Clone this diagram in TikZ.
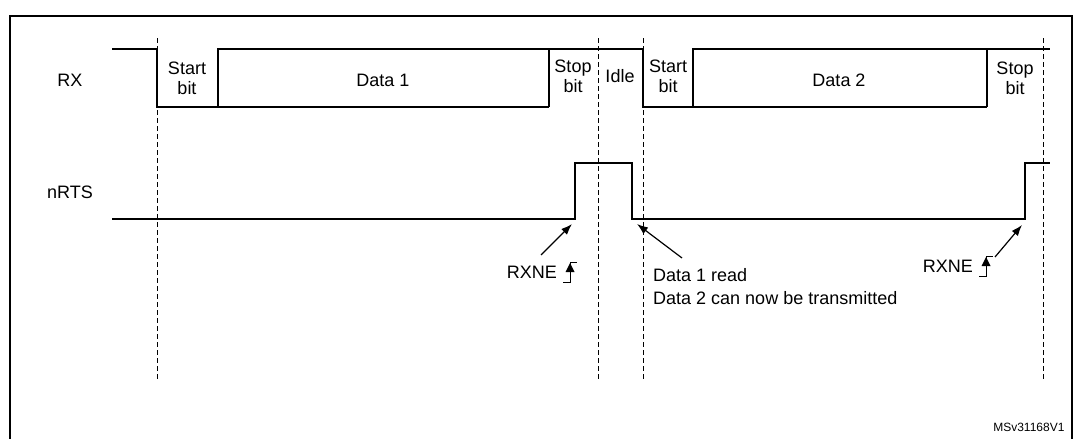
\documentclass[tikz,border=0pt]{standalone}
\usepackage{fontspec}
\setmainfont{Liberation Sans}
\usetikzlibrary{positioning,arrows.meta}
\tikzset{
  sig/.style={line width=1.2pt},
  bound/.style={dash pattern=on 5pt off 3pt, line width=0.7pt},
  lbl/.style={font=\fontsize{18}{21}\selectfont, inner sep=1pt},
  cell/.style={font=\fontsize{18}{20}\selectfont, align=center, inner sep=0pt},
  note/.style={-{Latex[length=11pt,width=8pt]}, line width=1.2pt},
}
\newcommand{\riseedge}[1]{%
  \draw[line width=0.9pt] ($(#1)+(-7,10)$) -- ++(7,0) -- ++(0,-20) -- ++(7,0);
  \fill ($(#1)+(0,-9)$) -- ++(-4.5,9) -- ++(9,0) -- cycle;}
\usetikzlibrary{calc}
\begin{document}
\begin{tikzpicture}[x=1pt,y=-1pt]
\useasboundingbox (0,0) rectangle (1079,439);
% frame
\draw[line width=1.2pt] (10,445) -- (10,16) -- (1072,16) -- (1072,445);
% bit boundaries
\foreach \x in {157,598,643,1043}
  \draw[bound] (\x,38) -- (\x,380);
% RX line
\draw[sig] (112,49) -- (157,49) -- (157,107) -- (549,107);
\draw[sig] (218,107) -- (218,49) -- (549,49) -- (549,107);
\draw[sig] (549,49) -- (643,49) -- (643,107) -- (987,107);
\draw[sig] (693,107) -- (693,49) -- (987,49) -- (987,107);
\draw[sig] (987,49) -- (1050,49);
\node[lbl] (rx) at (70,80) {RX};
\node[cell] (st1) at (187,78) {Start\\bit};
\node[cell] (d1) at (383,80) {Data 1};
\node[cell] (sp1) at (573,76) {Stop\\bit};
\node[cell] (idle) at (620,76) {Idle};
\node[cell] (st2) at (668,76) {Start\\bit};
\node[cell] (d2) at (839,80) {Data 2};
\node[cell] (sp2) at (1015,78) {Stop\\bit};
% nRTS line
\draw[sig] (112,219) -- (575,219) -- (575,163) -- (632,163) -- (632,219)
  -- (1025,219) -- (1025,163) -- (1050,163);
\node[lbl] (nrts) at (70,192) {nRTS};
% events
\coordinate (e1) at (572,224);
\coordinate (e2) at (637,224);
\coordinate (e3) at (1022,225);
\node[lbl, anchor=east] (rxne1) at (558,272) {RXNE};
\node[lbl, anchor=west] (rd) at (652,275) {Data 1 read};
\node[lbl, anchor=west] (tx) at (652,298) {Data 2 can now be transmitted};
\node[lbl, anchor=east] (rxne2) at (974,266) {RXNE};
\draw[note] (541,255) -- (e1);
\draw[note] (682,258) -- (e2);
\draw[note] (995,257) -- (e3);
\riseedge{570,272}
\riseedge{986,266}
\node[font=\fontsize{12}{14}\selectfont, anchor=south east] (ref) at (1068,435) {MSv31168V1};
\end{tikzpicture}
\end{document}
